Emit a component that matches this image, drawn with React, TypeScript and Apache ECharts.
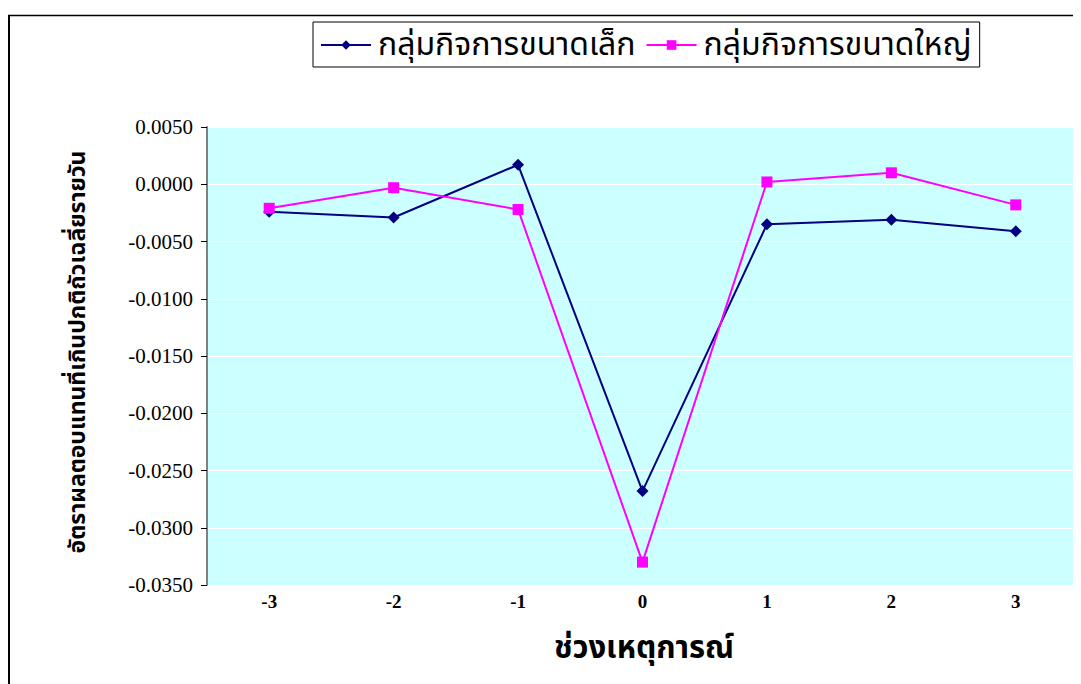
import React, { useEffect, useRef } from "react";
import * as echarts from "echarts";

const categories = ["-3", "-2", "-1", "0", "1", "2", "3"];
const smallFirms = [-0.0024, -0.0029, 0.0017, -0.0268, -0.0035, -0.0031, -0.0041];
const largeFirms = [-0.0021, -0.0003, -0.0022, -0.033, 0.0002, 0.001, -0.0018];
const seriesNames = ["กลุ่มกิจการขนาดเล็ก", "กลุ่มกิจการขนาดใหญ่"];
const xTitle = "ช่วงเหตุการณ์";
const yTitle = "อัตราผลตอบแทนที่เกินปกติถัวเฉลี่ยรายวัน";

const thaiFont = "'Noto Sans Thai', 'Noto Sans', 'DejaVu Sans', sans-serif";
const serif = "'Liberation Serif', 'Times New Roman', serif";

export default function App() {
  const ref = useRef<HTMLDivElement>(null);
  useEffect(() => {
    if (!ref.current) return;
    const chart = echarts.init(ref.current, null, { renderer: "svg" });
    chart.setOption({
      animation: false,
      backgroundColor: "#ffffff",
      grid: {
        left: 199,
        top: 119,
        right: 3,
        bottom: 99,
        show: true,
        backgroundColor: "#CCFFFF",
        borderWidth: 0,
      },
      legend: {
        left: 305,
        top: 14,
        padding: [4, 8, 3, 7],
        borderColor: "#000",
        borderWidth: 1,
        backgroundColor: "#fff",
        itemWidth: 50,
        itemHeight: 12,
        itemGap: 10,
        textStyle: {
          fontFamily: thaiFont,
          fontSize: 32,
          lineHeight: 38,
          color: "#000",
          padding: [0, 0, 0, 2],
        },
        data: seriesNames,
      },
      xAxis: {
        type: "category",
        data: categories,
        boundaryGap: true,
        axisLine: { show: false },
        axisTick: { show: false },
        axisLabel: {
          margin: 7,
          fontFamily: serif,
          fontWeight: "bold",
          fontSize: 19,
          color: "#000",
        },
      },
      yAxis: {
        type: "value",
        min: -0.035,
        max: 0.005,
        interval: 0.005,
        axisLine: { show: true, lineStyle: { color: "#808080", width: 2 } },
        axisTick: { show: true, length: 6, lineStyle: { color: "#000" } },
        splitLine: { show: true, lineStyle: { color: "#ffffff", width: 1 } },
        axisLabel: {
          margin: 14,
          fontFamily: serif,
          fontSize: 21,
          color: "#000",
          formatter: (v: number) => v.toFixed(4),
        },
      },
      series: [
        {
          name: seriesNames[0],
          type: "line",
          data: smallFirms,
          symbol: "diamond",
          symbolSize: 12,
          lineStyle: { color: "#000080", width: 2 },
          itemStyle: { color: "#000080" },
        },
        {
          name: seriesNames[1],
          type: "line",
          data: largeFirms,
          symbol: "rect",
          symbolSize: 11,
          lineStyle: { color: "#FF00FF", width: 2 },
          itemStyle: { color: "#FF00FF" },
        },
      ],
      graphic: [
        {
          type: "line",
          shape: { x1: 1, y1: 7, x2: 1, y2: 690 },
          style: { stroke: "#000", lineWidth: 2 },
        },
        {
          type: "line",
          shape: { x1: 0, y1: 7.5, x2: 1080, y2: 7.5 },
          style: { stroke: "#000", lineWidth: 1.5 },
        },
        {
          type: "text",
          x: 70,
          y: 344,
          rotation: Math.PI / 2,
          style: {
            text: yTitle,
            fontFamily: thaiFont,
            fontWeight: "bold",
            fontSize: 23,
            fill: "#000",
            align: "center",
            verticalAlign: "middle",
          },
        },
        {
          type: "text",
          x: 636,
          y: 640,
          style: {
            text: xTitle,
            fontFamily: thaiFont,
            fontWeight: "bold",
            fontSize: 31,
            fill: "#000",
            align: "center",
            verticalAlign: "middle",
          },
        },
      ],
    });
    return () => chart.dispose();
  }, []);
  return <div ref={ref} style={{ width: 1073, height: 676 }} />;
}
